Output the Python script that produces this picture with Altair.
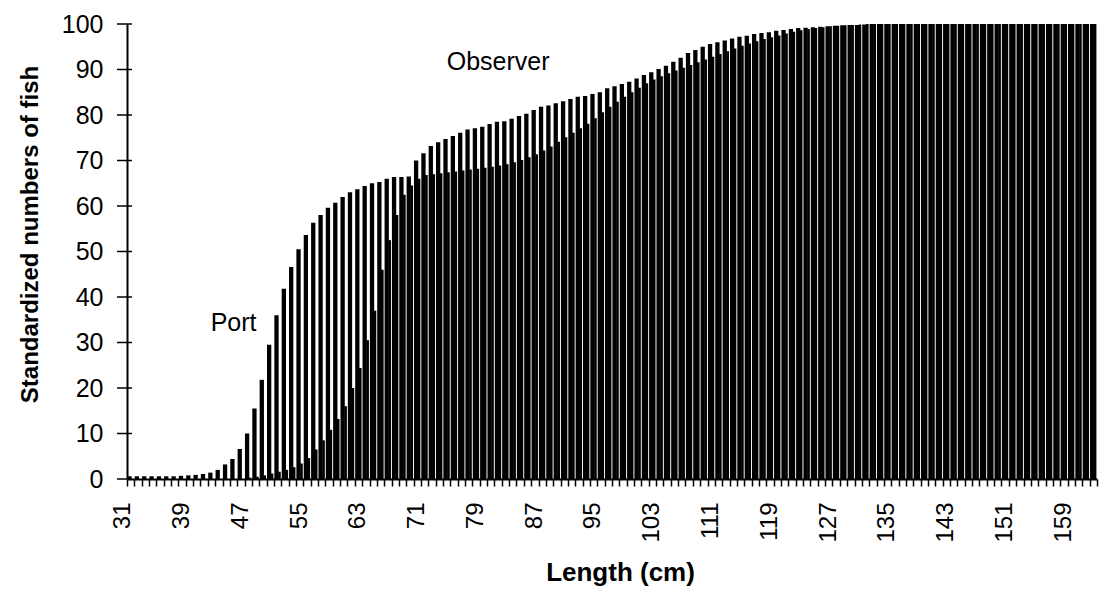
import altair as alt
import pandas as pd

# Length classes (cm)
lengths = list(range(31, 163))

# Cumulative standardized numbers of fish, one value per length class
port = [
    0.6, 0.6, 0.6, 0.6, 0.6, 0.6, 0.6, 0.7, 0.8, 0.9,
    1.1, 1.4, 2.0, 3.2, 4.4, 6.6, 10.0, 15.5, 21.8, 29.5,
    36.0, 41.8, 46.6, 50.5, 53.6, 56.3, 58.0, 59.6, 60.7, 62.0,
    63.0, 63.7, 64.4, 65.0, 65.3, 66.0, 66.4, 66.4, 66.5, 70.0,
    71.6, 73.2, 74.0, 74.7, 75.4, 76.1, 76.8, 77.1, 77.4, 78.0,
    78.5, 78.6, 79.2, 79.8, 80.3, 81.1, 81.8, 82.1, 82.6, 83.0,
    83.5, 84.0, 84.2, 84.6, 85.0, 85.9, 86.3, 86.8, 87.3, 88.0,
    88.8, 89.4, 90.1, 90.8, 91.7, 92.6, 93.6, 94.3, 95.0, 95.6,
    96.0, 96.4, 96.8, 97.2, 97.4, 97.8, 98.0, 98.2, 98.5, 98.7,
    98.9, 99.1, 99.2, 99.3, 99.4, 99.5, 99.6, 99.7, 99.8, 99.8,
    99.9, 100, 100, 100, 100, 100, 100, 100, 100, 100,
    100, 100, 100, 100, 100, 100, 100, 100, 100, 100,
    100, 100, 100, 100, 100, 100, 100, 100, 100, 100,
    100, 100,
]
observer = [
    0, 0, 0, 0, 0, 0, 0, 0, 0, 0,
    0, 0, 0, 0, 0, 0, 0.3, 0.5, 0.8, 1.2,
    1.6, 2.0, 2.6, 3.4, 4.6, 6.5, 8.5, 10.8, 13.2, 16.0,
    20.0, 24.4, 30.5, 37.0, 46.0, 52.5, 58.0, 62.5, 64.5, 66.0,
    66.8, 67.0, 67.2, 67.4, 67.6, 67.8, 68.0, 68.2, 68.4, 68.6,
    68.9, 69.2, 69.6, 70.1, 70.7, 71.4, 72.2, 73.1, 74.1, 75.1,
    76.1, 77.1, 78.1, 79.3, 80.6, 81.8, 82.9, 84.0, 85.0, 86.0,
    87.0, 87.8, 88.5, 89.2, 89.8, 90.4, 91.0, 91.6, 92.2, 92.8,
    93.4, 94.0, 94.6, 95.2, 95.7, 96.2, 96.7, 97.1, 97.5, 97.9,
    98.3, 98.6, 98.9, 99.1, 99.3, 99.5, 99.6, 99.7, 99.8, 99.9,
    100, 100, 100, 100, 100, 100, 100, 100, 100, 100,
    100, 100, 100, 100, 100, 100, 100, 100, 100, 100,
    100, 100, 100, 100, 100, 100, 100, 100, 100, 100,
    100, 100,
]

y_ticks = [0, 10, 20, 30, 40, 50, 60, 70, 80, 90, 100]

# In-chart series labels
label_text = ["Port", "Observer"]
label_len = [45, 81]
label_val = [34.3, 91.6]

FONT = "Liberation Sans"
BAND = 970 / len(lengths)

bars = pd.DataFrame({"len": lengths, "port": port, "observer": observer})
labels = pd.DataFrame({"len": label_len, "val": label_val, "text": label_text})
ticks = pd.DataFrame({"val": y_ticks})

x = alt.X(
    "len:O",
    scale=alt.Scale(paddingInner=0, paddingOuter=0),
    axis=alt.Axis(
        title="Length (cm)",
        titleFont=FONT, titleFontSize=26, titleFontWeight="bold", titleColor="black",
        titleX=493, titleY=93, titleBaseline="middle", titleAlign="center",
        labelFont=FONT, labelFontSize=24, labelColor="black",
        labelAngle=270, labelAlign="right", labelBaseline="middle",
        labelPadding=16, labelOffset=-8, labelOverlap=False, labelFlush=False,
        labelExpr="(datum.value - 31) % 8 == 0 ? datum.label : ''",
        tickBand="extent", tickSize=7, tickWidth=1.5, tickColor="black",
        domainColor="black", domainWidth=2, grid=False,
    ),
)
y_scale = alt.Scale(domain=[0, 100], nice=False)
y_axis = alt.Axis(
    title="Standardized numbers of fish",
    titleFont=FONT, titleFontSize=24, titleFontWeight="bold", titleColor="black",
    titleAngle=270, titleX=-97, titleY=210, titleBaseline="middle", titleAlign="center",
    values=y_ticks, labelFont=FONT, labelFontSize=25, labelColor="black",
    labelPadding=24, ticks=False, domainColor="black", domainWidth=2, grid=False,
)

port_bars = alt.Chart(bars).mark_bar(
    color="black", width=alt.RelativeBandSize(4.3 / BAND), xOffset=-1.15
).encode(x=x, y=alt.Y("port:Q", scale=y_scale, axis=y_axis))

observer_bars = alt.Chart(bars).mark_bar(
    color="black", width=alt.RelativeBandSize(2.6 / BAND), xOffset=1.8
).encode(x=x, y=alt.Y("observer:Q", scale=y_scale))

y_tick_marks = alt.Chart(ticks).mark_rule(color="black", strokeWidth=1.5).encode(
    y=alt.Y("val:Q", scale=y_scale),
    x=alt.value(-10),
    x2=alt.value(5),
)

series_labels = alt.Chart(labels).mark_text(
    font=FONT, fontSize=25, color="black", align="center", baseline="middle"
).encode(x=x, y=alt.Y("val:Q", scale=y_scale), text="text:N")

chart = (
    alt.layer(port_bars, observer_bars, y_tick_marks, series_labels)
    .properties(
        width=970,
        height=455,
        autosize="none",
        padding={"left": 127, "top": 24, "right": 6, "bottom": 110},
        background="white",
    )
    .configure_view(stroke=None)
)

chart.save("out.html", embed_options={"renderer": "svg", "actions": False})
